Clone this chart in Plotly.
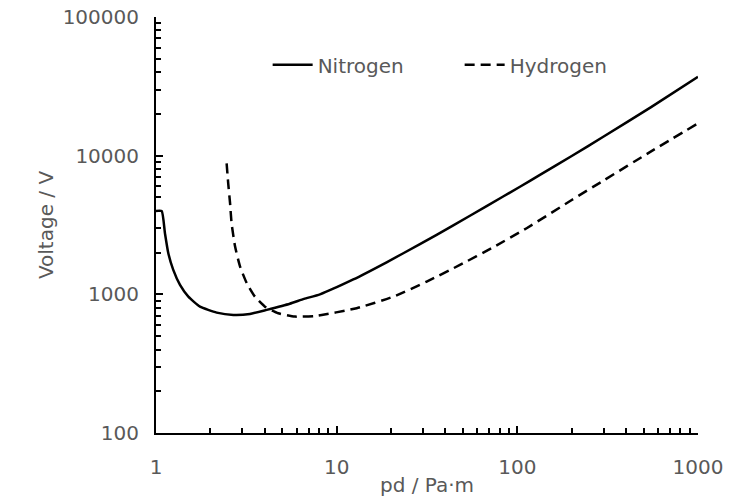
import plotly.graph_objects as go

# Nitrogen Paschen curve (pd in Pa·m, breakdown voltage in V)
n2_pd = [1.0, 1.075, 1.121, 1.17, 1.246, 1.358, 1.51, 1.752, 2.168, 2.68, 3.31, 4.10, 5.5, 6.6,
         8.08, 12.36, 18.9, 28.9, 44.2, 67.6, 103.4, 133.4, 200, 299, 550, 1000]
n2_v = [3990, 3990, 2754, 1977, 1500, 1169, 962, 815, 738, 710, 722, 773, 855, 927,
        1000, 1280, 1702, 2301, 3141, 4325, 5970, 7260, 9950, 13680, 22400, 37000]

# Hydrogen Paschen curve
h2_pd = [2.46, 2.51, 2.57, 2.62, 2.74, 2.92, 3.18, 3.53, 4.01, 4.75, 5.88, 7.59,
         12.9, 20.6, 31.5, 48.1, 73.6, 112.6, 200, 299, 550, 1000]
h2_v = [8810, 6320, 4540, 3260, 2210, 1585, 1202, 962, 815, 730, 691, 698,
        794, 962, 1235, 1629, 2186, 2997, 4790, 6600, 10740, 17100]

x_ticks = [1, 10, 100, 1000]
y_ticks = [100, 1000, 10000, 100000]

FONT = "DejaVu Sans"
GREY = "#595959"
FS = 20

fig = go.Figure()
fig.add_trace(go.Scatter(x=n2_pd, y=n2_v, mode="lines", name="Nitrogen",
                         line=dict(color="black", width=2.5, shape="spline", smoothing=0.5)))
fig.add_trace(go.Scatter(x=h2_pd, y=h2_v, mode="lines", name="Hydrogen",
                         line=dict(color="black", width=2.5, dash="10px,6px", shape="spline", smoothing=0.5)))

axis_common = dict(
    type="log", showline=True, linecolor="black", linewidth=2, automargin=False,
    showgrid=False, zeroline=False, ticks="inside", ticklen=7, tickwidth=2,
    tickcolor="black", tickfont=dict(family=FONT, size=FS, color=GREY),
    minor=dict(ticks="inside", ticklen=5, tickwidth=1.5, tickcolor="black",
               dtick="D1", showgrid=False),
)

fig.update_xaxes(range=[0, 3], tickmode="array", tickvals=x_ticks,
                 ticktext=[str(v) for v in x_ticks], ticklabelstandoff=15,
                 title=dict(text="pd / Pa·m", font=dict(family=FONT, size=FS, color=GREY), standoff=0),
                 **axis_common)
fig.update_yaxes(range=[2, 5], tickmode="array", tickvals=y_ticks,
                 ticktext=[str(v) for v in y_ticks], ticklabelstandoff=11,
                 title=dict(text="Voltage / V", font=dict(family=FONT, size=FS, color=GREY), standoff=4),
                 **axis_common)

fig.update_layout(
    width=738, height=504,
    margin=dict(l=156, r=40, t=17, b=71),
    plot_bgcolor="white", paper_bgcolor="white",
    font=dict(family=FONT, size=FS, color=GREY),
    legend=dict(orientation="h", x=0.206, y=0.885, xanchor="left", yanchor="middle",
                bgcolor="rgba(0,0,0,0)", font=dict(family=FONT, size=FS, color=GREY),
                entrywidth=137, itemwidth=40),
    showlegend=True,
)

fig.write_html("out.html")
